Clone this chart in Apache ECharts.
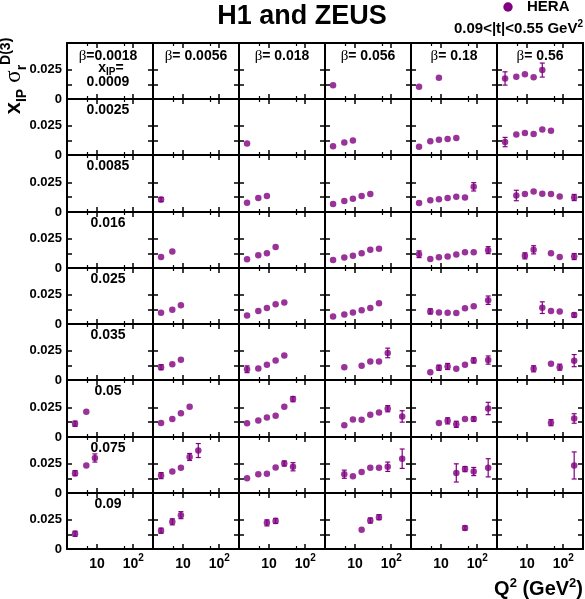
<!DOCTYPE html>
<html>
<head>
<meta charset="utf-8">
<script src="https://cdn.jsdelivr.net/npm/echarts@6/dist/echarts.min.js"></script>
<style>
html, body { margin: 0; padding: 0; background: #fff; }
#main { width: 585px; height: 599px; }
</style>
</head>
<body>
<div id="main"></div>
<script>
// Q2 bins (GeV^2), shared by every panel
const Q2 = [2.5, 5.1, 8.8, 15.3, 26.5, 46, 80, 200];
const betaLabels = ['0.0018', '0.0056', '0.018', '0.056', '0.18', '0.56'];
const xipLabels = ['0.0009', '0.0025', '0.0085', '0.016', '0.025', '0.035', '0.05', '0.075', '0.09'];

// x_IP * sigma_r per x_IP row: one array per beta column, entries follow Q2 (null = no point)
// err_* holds the visible error bars only (null = hidden under the marker)
const sig_0009 = [[], [], [], [0.0118], [0.0104, null, 0.0182], [0.0176, 0.0190, 0.0213, 0.0187, 0.0248]];
const err_0009 = [[], [], [], [], [], [0.0057, null, null, null, 0.0060]];

const sig_0025 = [[], [], [0.0099], [0.0076, 0.0108, 0.0125], [0.0071, 0.0117, 0.0131, 0.0137, 0.0146], [0.0111, 0.0175, 0.0189, 0.0180, 0.0219, 0.0207]];
const err_0025 = [[], [], [], [], [], [0.0040]];

const sig_0085 = [[], [0.0105], [0.0078, 0.0117, 0.0134], [0.0067, 0.0093, 0.0111, 0.0134, 0.0152], [0.0076, 0.0099, 0.0108, 0.0117, 0.0128, 0.0122, 0.0212], [null, 0.0139, 0.0152, 0.0172, 0.0154, 0.0152, 0.0131, 0.0122]];
const err_0085 = [[], [0.0018], [], [], [null, null, null, null, null, null, 0.0035], [null, 0.0044, null, null, null, null, null, 0.0026]];

const sig_016 = [[], [0.0095, 0.0141], [0.0075, 0.0110, 0.0127, 0.0179], [0.0069, 0.0089, 0.0106, 0.0127, 0.0156, 0.0165], [0.0118, 0.0078, 0.0092, 0.0098, 0.0115, 0.0136, 0.0136, 0.0153], [null, null, 0.0104, 0.0156, null, 0.0127, 0.0095, 0.0098]];
const err_016 = [[], [], [], [], [0.0029, null, null, null, null, null, null, 0.0030], [null, null, 0.0026, 0.0035, null, null, null, 0.0026]];

const sig_025 = [[], [0.0097, 0.0123, 0.0160], [0.0073, 0.0111, 0.0138, 0.0169, 0.0184], [0.0065, 0.0082, 0.0099, 0.0117, 0.0138, 0.0178], [null, 0.0108, 0.0099, 0.0097, 0.0094, 0.0134, 0.0152, 0.0204], [null, null, null, null, 0.0140, 0.0111, 0.0108, 0.0077]];
const err_025 = [[], [], [], [], [null, 0.0022, null, null, null, null, null, 0.0036], [null, null, null, null, 0.0050, null, null, 0.0018]];

const sig_035 = [[], [0.0110, 0.0136, 0.0174], [0.0092, 0.0098, 0.0131, 0.0168, 0.0209], [null, 0.0110, null, 0.0122, 0.0159, 0.0159, 0.0232], [null, 0.0066, 0.0105, 0.0116, 0.0096, 0.0131, 0.0168, 0.0171], [null, null, null, 0.0096, null, 0.0139, 0.0110, 0.0166]];
const err_035 = [[], [0.0022], [0.0029], [null, null, null, null, null, null, 0.0041], [null, null, 0.0022, 0.0026, null, null, 0.0022, 0.0035], [null, null, null, 0.0026, null, null, 0.0026, 0.0052]];

const sig_05 = [[0.0112, 0.0212], [0.0118, 0.0151, 0.0200, 0.0255], [0.0116, 0.0139, 0.0165, 0.0179, 0.0255, 0.0319], [null, 0.0098, 0.0147, 0.0145, 0.0188, 0.0206, 0.0238, 0.0173], [null, null, 0.0118, 0.0136, 0.0107, 0.0151, 0.0151, 0.0240], [null, null, null, null, null, 0.0121, null, 0.0156]];
const err_05 = [[0.0022], [], [null, null, null, null, null, 0.0022], [null, null, null, null, null, null, 0.0026, 0.0048], [null, null, null, 0.0026, 0.0026, null, 0.0018, 0.0052], [null, null, null, null, null, 0.0026, null, 0.0040]];

const sig_075 = [[0.0170, 0.0236, 0.0300], [0.0149, 0.0184, 0.0216, 0.0309, 0.0364], [0.0126, 0.0161, 0.0166, 0.0219, 0.0253, 0.0225], [null, 0.0161, 0.0144, 0.0179, 0.0216, 0.0216, 0.0225, 0.0294], [null, null, null, null, 0.0172, 0.0205, 0.0184, 0.0216], [null, null, null, null, null, null, null, 0.0236]];
const err_075 = [[0.0022, null, 0.0035], [0.0026, null, null, 0.0030, 0.0060], [null, null, null, null, 0.0022, 0.0035], [null, 0.0035, null, null, null, null, 0.0040, 0.0083], [null, null, null, null, 0.0078, 0.0022, 0.0035, 0.0078], [null, null, null, null, null, null, null, 0.0116]];

const sig_09 = [[0.0131], [0.0157, 0.0233, 0.0290], [null, null, 0.0224, 0.0241], [null, null, null, 0.0166, 0.0244, 0.0273], [null, null, null, null, null, 0.0180], []];
const err_09 = [[0.0022], [0.0022, 0.0026, 0.0030], [null, null, 0.0026, 0.0022], [null, null, null, null, 0.0022, 0.0022], [null, null, null, null, null, 0.0018], []];

const rowSig = [sig_0009, sig_0025, sig_0085, sig_016, sig_025, sig_035, sig_05, sig_075, sig_09];
const rowErr = [err_0009, err_0025, err_0085, err_016, err_025, err_035, err_05, err_075, err_09];

const purple = '#800080';
const font = 'Liberation Sans';
const left0 = 67, colW = 86, top0 = 43, rowH = 56.22;

let myChart = echarts.init(document.getElementById('main'));

let grids = [], xAxes = [], yAxes = [], series = [], graphics = [];

function xAxis(gi, pos, showLabel) {
  return {
    type: 'log', gridIndex: gi, position: pos, min: 1.5, max: 350,
    axisLine: { onZero: false, lineStyle: { color: '#000', width: 2 } },
    axisTick: { inside: true, length: 5, lineStyle: { color: '#000', width: 1.5 } },
    minorTick: { show: true, splitNumber: 2, length: 3, lineStyle: { color: '#000', width: 1.2 } },
    splitLine: { show: false },
    axisLabel: {
      show: showLabel, margin: 4, color: '#000', fontSize: 14, fontWeight: 'bold', fontFamily: font, lineHeight: 22,
      formatter: (v) => v === 10 ? '10' : (v === 100 ? '10{s|2}' : ''),
      rich: { s: { fontSize: 10, fontWeight: 'bold', fontFamily: font, color: '#000', verticalAlign: 'top', lineHeight: 10 } }
    }
  };
}

function yAxis(gi, pos, showLabel) {
  return {
    type: 'value', gridIndex: gi, position: pos, min: 0, max: 0.048,
    axisLine: { onZero: false, lineStyle: { color: '#000', width: 2 } },
    axisTick: { inside: true, length: 5, customValues: [0, 0.0125, 0.025], lineStyle: { color: '#000', width: 1.5 } },
    splitLine: { show: false },
    axisLabel: {
      show: showLabel, customValues: [0, 0.025], margin: 5, color: '#000',
      fontSize: 13, fontWeight: 'bold', fontFamily: font
    }
  };
}

// error bar: vertical line with small caps
function renderErr(params, api) {
  let q = api.value(0), v = api.value(1), e = api.value(2);
  let hi = api.coord([q, v + e]);
  let lo = api.coord([q, v - e]);
  let hw = 2.5;
  let st = { stroke: purple, lineWidth: 1.2 };
  return {
    type: 'group',
    children: [
      { type: 'line', shape: { x1: hi[0], y1: hi[1], x2: lo[0], y2: lo[1] }, style: st },
      { type: 'line', shape: { x1: hi[0] - hw, y1: hi[1], x2: hi[0] + hw, y2: hi[1] }, style: st },
      { type: 'line', shape: { x1: lo[0] - hw, y1: lo[1], x2: lo[0] + hw, y2: lo[1] }, style: st }
    ]
  };
}

for (let r = 0; r < 9; r++) {
  for (let c = 0; c < 6; c++) {
    let gi = r * 6 + c;
    let top = Math.round(top0 + r * rowH);
    let bottom = Math.round(top0 + (r + 1) * rowH);
    grids.push({ left: left0 + c * colW, top: top, width: colW, height: bottom - top, outerBoundsMode: 'none' });
    xAxes.push(xAxis(gi, 'bottom', r === 8));
    xAxes.push(xAxis(gi, 'top', false));
    yAxes.push(yAxis(gi, 'left', c === 0));
    yAxes.push(yAxis(gi, 'right', false));

    let vals = rowSig[r][c], errs = rowErr[r][c];
    let pts = [], bars = [];
    Q2.forEach((q, i) => {
      if (vals[i] != null) pts.push([q, vals[i]]);
      if (vals[i] != null && errs[i] != null) bars.push([q, vals[i], errs[i]]);
    });
    if (bars.length) {
      series.push({
        type: 'custom', xAxisIndex: 2 * gi, yAxisIndex: 2 * gi, z: 2,
        renderItem: renderErr, encode: { x: 0, y: 1 }, data: bars, silent: true
      });
    }
    if (pts.length) {
      series.push({
        type: 'scatter', xAxisIndex: 2 * gi, yAxisIndex: 2 * gi, z: 3,
        symbol: 'circle', symbolSize: 6.5, itemStyle: { color: purple }, data: pts, silent: true
      });
    }
  }
}

const richG = {
  g: { fontFamily: 'Liberation Serif', fontWeight: 'normal', fontSize: 15, fill: '#000' },
  sub: { fontFamily: font, fontWeight: 'bold', fontSize: 10, fill: '#000', verticalAlign: 'bottom' }
};

// beta labels along the top row
betaLabels.forEach((b, c) => {
  graphics.push({
    type: 'text', x: left0 + c * colW + (c === 0 ? 41 : 43), y: 56,
    style: {
      text: '{g|β}=' + (c === 0 ? '' : ' ') + b, fontSize: 14, fontWeight: 'bold', fontFamily: font,
      fill: '#000', align: 'center', verticalAlign: 'middle', rich: richG
    }
  });
});

// x_IP labels in the first column
graphics.push({
  type: 'text', x: 111, y: 68,
  style: {
    text: 'x{sub|IP}=', fontSize: 14, fontWeight: 'bold', fontFamily: font, lineHeight: 18,
    fill: '#000', align: 'center', verticalAlign: 'middle', rich: richG
  }
});
xipLabels.forEach((x, r) => {
  let top = Math.round(top0 + r * rowH);
  graphics.push({
    type: 'text', x: 108, y: r === 0 ? 82 : top + 11.5,
    style: { text: x, fontSize: 14, fontWeight: 'bold', fontFamily: font, fill: '#000', align: 'center', verticalAlign: 'middle' }
  });
});

graphics.push(
  {
    type: 'text', x: 302, y: 17,
    style: { text: 'H1 and ZEUS', fontSize: 27, fontWeight: 'bold', fontFamily: font, fill: '#000', align: 'center', verticalAlign: 'middle' }
  },
  { type: 'circle', shape: { cx: 508, cy: 7, r: 4.7 }, style: { fill: purple } },
  {
    type: 'text', x: 527, y: 7,
    style: { text: 'HERA', fontSize: 15, fontWeight: 'bold', fontFamily: font, fill: '#000', align: 'left', verticalAlign: 'middle' }
  },
  {
    type: 'text', x: 583, y: 29,
    style: {
      text: '0.09<|t|<0.55 GeV{sup|2}', fontSize: 15, fontWeight: 'bold', fontFamily: font, lineHeight: 20,
      fill: '#000', align: 'right', verticalAlign: 'middle',
      rich: { sup: { fontSize: 10, fontWeight: 'bold', fontFamily: font, fill: '#000', verticalAlign: 'top' } }
    }
  },
  {
    type: 'text', x: 583, y: 589,
    style: {
      text: 'Q{sup|2} (GeV{sup|2})', fontSize: 20, fontWeight: 'bold', fontFamily: font, lineHeight: 24,
      fill: '#000', align: 'right', verticalAlign: 'middle',
      rich: { sup: { fontSize: 13, fontWeight: 'bold', fontFamily: font, fill: '#000', verticalAlign: 'top' } }
    }
  },
  {
    type: 'text', x: 14, y: 76, rotation: Math.PI / 2,
    style: {
      text: 'x{sub|IP} {g|σ}{sub|r}{sup|D(3)}', fontSize: 22, fontWeight: 'bold', fontFamily: font, lineHeight: 30,
      fill: '#000', align: 'center', verticalAlign: 'middle',
      rich: {
        g: { fontFamily: 'Liberation Serif', fontWeight: 'normal', fontSize: 23, fill: '#000' },
        sub: { fontSize: 14, fontWeight: 'bold', fontFamily: font, fill: '#000', verticalAlign: 'bottom' },
        sup: { fontSize: 14, fontWeight: 'bold', fontFamily: font, fill: '#000', verticalAlign: 'top' }
      }
    }
  }
);

myChart.setOption({
  animation: false,
  backgroundColor: '#fff',
  textStyle: { fontFamily: font },
  grid: grids,
  xAxis: xAxes,
  yAxis: yAxes,
  series: series,
  graphic: graphics
});
</script>
</body>
</html>
